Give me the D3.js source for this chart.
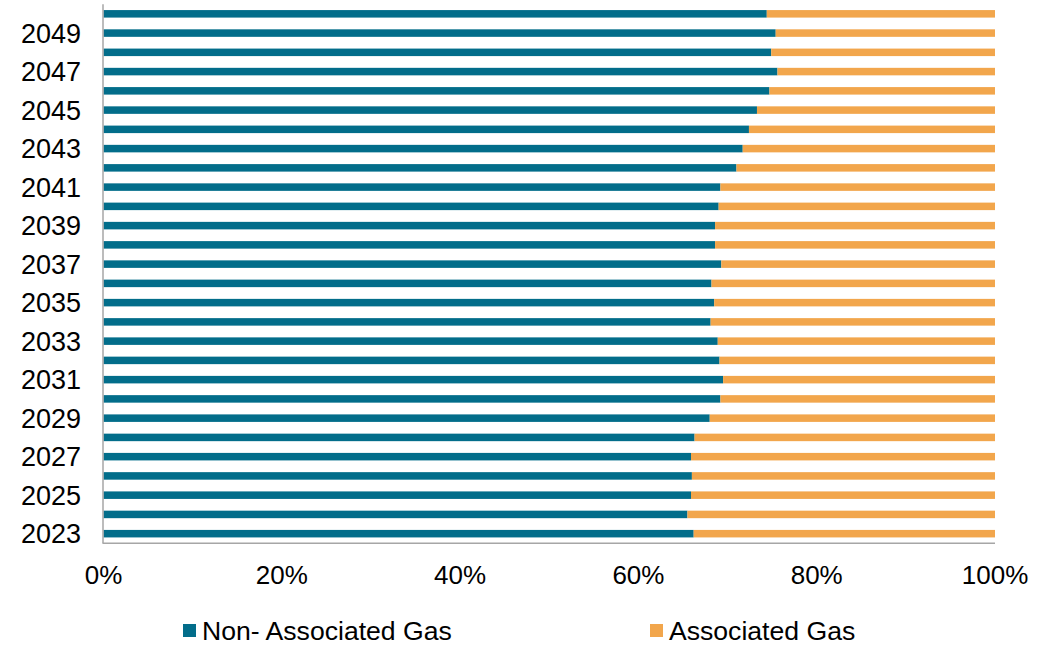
<!DOCTYPE html>
<html>
<head>
<meta charset="utf-8">
<script src="https://cdn.jsdelivr.net/npm/d3@7"></script>
<style>
  html, body { margin: 0; padding: 0; background: #fff; }
  svg { display: block; font-family: "Liberation Sans", Arial, sans-serif; }
</style>
</head>
<body>
<svg id="chart" width="1056" height="645"></svg>
<script>
const years = [2023,2024,2025,2026,2027,2028,2029,2030,2031,2032,2033,2034,2035,2036,2037,2038,2039,2040,2041,2042,2043,2044,2045,2046,2047,2048,2049,2050];
const nonAssociated = [66.2,65.5,65.9,66.0,65.9,66.3,68.0,69.2,69.5,69.1,68.9,68.1,68.5,68.2,69.3,68.6,68.6,69.0,69.2,71.0,71.7,72.4,73.3,74.7,75.6,74.9,75.4,74.4];
const associated = nonAssociated.map(v => 100 - v);
const xTicks = [0, 20, 40, 60, 80, 100];
const seriesNames = ["Non- Associated Gas", "Associated Gas"];
const colors = ["#026d8a", "#f2a64c"];

(function () {
const svg = d3.select("#chart");
const mLeft = 103.5, mRight = 995, mTop = 4.2, mBottom = 543.3;

const x = d3.scaleLinear().domain([0, 100]).range([mLeft, mRight]);
const y = d3.scaleBand().domain(years.slice().reverse()).range([mTop, mBottom]).paddingInner(0.61).paddingOuter(0.305);

const rows = years.map((yr, i) => ({ year: yr, non: nonAssociated[i], assoc: associated[i] }));
const stack = d3.stack().keys(["non", "assoc"])(rows);

stack.forEach((layer, li) => {
  svg.append("g").attr("fill", colors[li])
    .selectAll("rect").data(layer).join("rect")
    .attr("x", d => x(d[0]))
    .attr("width", d => x(d[1]) - x(d[0]))
    .attr("y", d => y(d.data.year))
    .attr("height", y.bandwidth());
});

svg.append("line").attr("x1", mLeft - 0.5).attr("x2", mLeft - 0.5).attr("y1", mTop).attr("y2", mBottom)
  .attr("stroke", "#a6a6a6").attr("stroke-width", 1.5);
svg.append("line").attr("x1", mLeft - 1).attr("x2", mRight).attr("y1", mBottom).attr("y2", mBottom)
  .attr("stroke", "#a6a6a6").attr("stroke-width", 1.5);

svg.append("g").selectAll("text").data(years.filter(yr => (yr - 2023) % 2 === 0)).join("text")
  .attr("x", 81).attr("y", d => y(d) + y.bandwidth() / 2 + 0.5)
  .attr("text-anchor", "end").attr("dominant-baseline", "central")
  .attr("font-size", 27).attr("fill", "#000")
  .text(d => d);

svg.append("g").selectAll("text").data(xTicks).join("text")
  .attr("x", d => x(d)).attr("y", 584)
  .attr("text-anchor", "middle")
  .attr("font-size", 26).attr("fill", "#000")
  .text(d => d + "%");

const legendX = [183, 650];
seriesNames.forEach((name, i) => {
  svg.append("rect").attr("x", legendX[i]).attr("y", 624).attr("width", 13).attr("height", 13).attr("fill", colors[i]);
  svg.append("text").attr("x", legendX[i] + 19).attr("y", 640)
    .attr("font-size", 26.6).attr("fill", "#000").text(name);
});
})();
</script>
</body>
</html>
